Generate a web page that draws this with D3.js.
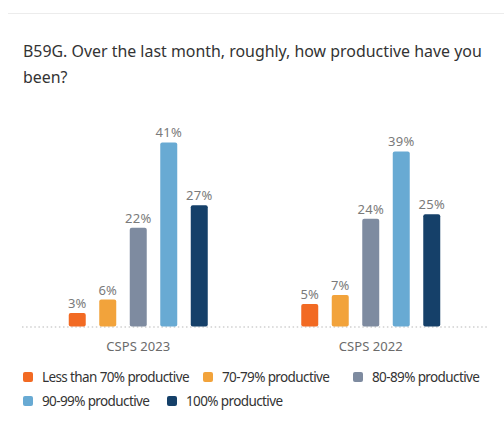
<!DOCTYPE html>
<html>
<head>
<meta charset="utf-8">
<script src="https://cdn.jsdelivr.net/npm/d3@7"></script>
<style>
  body { margin: 0; background: #fff; }
  svg { display: block; font-family: "Noto Sans", "Open Sans", sans-serif; }
</style>
</head>
<body>
<div id="chart"></div>
<script>
"use strict";

/* ── Data ── */
const groups = ["CSPS 2023", "CSPS 2022"];
const categories = [
  "Less than 70% productive",
  "70-79% productive",
  "80-89% productive",
  "90-99% productive",
  "100% productive"
];
const values2023 = [3, 6, 22, 41, 27];
const values2022 = [5, 7, 24, 39, 25];
const colours = ["#f26a23", "#f2a33b", "#7e8ba0", "#68aad3", "#154069"];

const W = 504, H = 430;
const baseY = 326.5;

const svg = d3.select("#chart").append("svg")
  .attr("width", W).attr("height", H);

/* spread a text with letter-spacing so it spans the given width */
function spacingFor(node, target) {
  const len = node.getComputedTextLength();
  return (target - len) / node.textContent.length;
}

/* ── Top rule ── */
svg.append("line")
  .attr("x1", 8).attr("x2", W).attr("y1", 13.5).attr("y2", 13.5)
  .attr("stroke", "#ececec").attr("stroke-width", 1);

/* ── Title ── */
const title = svg.append("text")
  .attr("x", 23).attr("y", 57)
  .attr("fill", "#333").attr("font-size", "17px");
const t1 = title.append("tspan").attr("x", 23).attr("dy", 0)
  .text("B59G. Over the last month, roughly, how productive have you");
title.append("tspan").attr("x", 23).attr("dy", 26).text("been?");
{
  const len = t1.node().getComputedTextLength();
  title.attr("font-size", (17 * 459 / len) + "px");
}

/* ── Scales ── */
const x0 = d3.scaleBand().domain(groups).range([22, 487]).padding(0);
const x1 = d3.scaleBand().domain(categories).range([0, 139]).paddingInner(0.443).paddingOuter(0);
const y = d3.scaleLinear().domain([0, 45]).range([baseY, baseY - 45 * 4.49]);

/* ── Baseline (dotted) ── */
svg.append("line")
  .attr("x1", 22).attr("x2", 487).attr("y1", baseY + 0.5).attr("y2", baseY + 0.5)
  .attr("stroke", "#d0d0d0").attr("stroke-width", 1.5)
  .attr("stroke-dasharray", "1.5,2.6");

/* ── Bars ── */
const rows = groups.map((g, i) => ({
  group: g,
  values: (i === 0 ? values2023 : values2022).map((v, j) => ({ cat: categories[j], v, c: colours[j] }))
}));

const gG = svg.selectAll(".grp")
  .data(rows)
  .join("g")
  .attr("class", "grp")
  .attr("transform", d => `translate(${x0(d.group) + x0.bandwidth() / 2 - 69.5},0)`);

gG.selectAll("rect")
  .data(d => d.values)
  .join("rect")
  .attr("x", d => x1(d.cat))
  .attr("y", d => y(d.v))
  .attr("width", x1.bandwidth())
  .attr("height", d => baseY - y(d.v))
  .attr("rx", 2)
  .attr("fill", d => d.c);

gG.selectAll(".val")
  .data(d => d.values)
  .join("text")
  .attr("class", "val")
  .attr("x", d => x1(d.cat) + x1.bandwidth() / 2)
  .attr("y", d => y(d.v) - 5)
  .attr("text-anchor", "middle")
  .attr("fill", "#7a7a7a").attr("font-size", "13px")
  .attr("letter-spacing", "0.2px")
  .text(d => d.v + "%");

/* ── Group labels ── */
const gl = svg.selectAll(".glabel")
  .data(groups)
  .join("text")
  .attr("class", "glabel")
  .attr("x", d => x0(d) + x0.bandwidth() / 2)
  .attr("y", 351)
  .attr("text-anchor", "middle")
  .attr("fill", "#6b6b6b").attr("font-size", "13px")
  .text(d => d);
gl.attr("letter-spacing", spacingFor(gl.node(), 64) + "px");

/* ── Legend ── */
const legendPos = [[23, 377], [203, 377], [353, 377], [23, 401], [167, 401]];
const lg = svg.selectAll(".leg")
  .data(categories)
  .join("g")
  .attr("class", "leg")
  .attr("transform", (d, i) => `translate(${legendPos[i][0]},${legendPos[i][1]})`);

lg.append("rect")
  .attr("x", 0).attr("y", -5).attr("width", 10).attr("height", 10).attr("rx", 2)
  .attr("fill", (d, i) => colours[i]);

const lt = lg.append("text")
  .attr("x", 19).attr("y", 4.8)
  .attr("fill", "#333").attr("font-size", "13.5px")
  .text(d => d);
lt.attr("letter-spacing", spacingFor(lt.node(), 147) + "px");
</script>
</body>
</html>
